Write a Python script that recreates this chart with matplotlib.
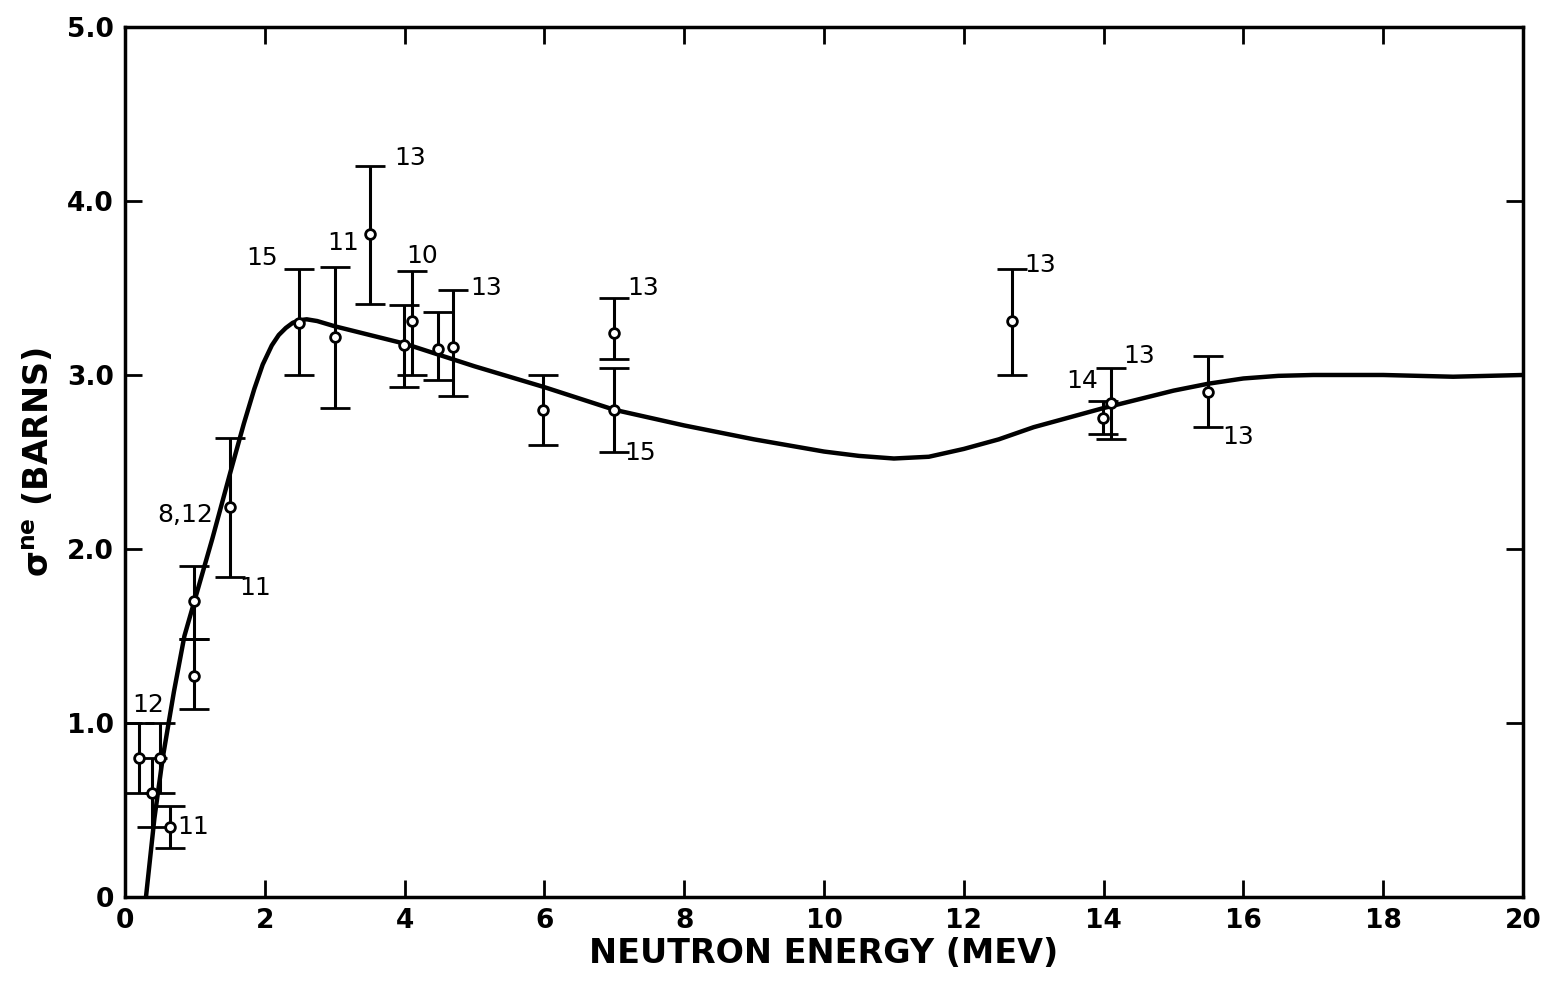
import matplotlib
matplotlib.use('Agg')
import matplotlib.pyplot as plt

plt.rcParams['font.family'] = ['DejaVu Sans']
plt.rcParams['font.weight'] = 'bold'
plt.rcParams['axes.labelweight'] = 'bold'
plt.rcParams['mathtext.fontset'] = 'dejavusans'

# measured points: energy (MeV), cross section (barns), lower / upper error bar ends
energy = [0.2, 0.39, 0.5, 0.64, 0.99, 0.99, 1.5, 2.49, 3.0, 3.5, 3.99, 4.1,
          4.48, 4.69, 5.98, 7.0, 7.0, 12.69, 13.99, 14.1, 15.5]
sigma = [0.80, 0.60, 0.80, 0.40, 1.70, 1.27, 2.24, 3.30, 3.22, 3.81, 3.17, 3.31,
         3.15, 3.16, 2.80, 3.24, 2.80, 3.31, 2.75, 2.84, 2.90]
err_lo = [0.60, 0.40, 0.60, 0.28, 1.48, 1.08, 1.84, 3.00, 2.81, 3.41, 2.93, 3.00,
          2.97, 2.88, 2.60, 3.09, 2.56, 3.00, 2.66, 2.63, 2.70]
err_hi = [1.00, 0.80, 1.00, 0.52, 1.90, 1.48, 2.64, 3.61, 3.62, 4.20, 3.40, 3.60,
          3.36, 3.49, 3.00, 3.44, 3.04, 3.61, 2.85, 3.04, 3.11]
refs = ['12', '', '', '11', '8,12', '', '11', '15', '11', '13', '', '10',
        '', '13', '', '13', '15', '13', '14', '13', '13']
# label offsets in pixels from each point
ref_dx = [9, 0, 0, 23, -9, 0, 25, -37, 8, 40, 0, 11, 0, 33, 0, 29, 26, 28, -21, 29, 30]
ref_dy = [53, 0, 0, 0, 86, 0, -81, 65, 94, 76, 0, 65, 0, 59, 0, 45, -43, 56, 37, 47, -45]

# theoretical curve
curve_x = [0.3, 0.42, 0.54, 0.7, 0.85, 1.0, 1.25, 1.5, 1.7, 1.85, 1.97, 2.1, 2.2,
           2.3, 2.4, 2.5, 2.6, 2.75, 3.0, 3.5, 4.0, 5.0, 6.0, 7.0, 8.0, 9.0, 10.0,
           10.5, 11.0, 11.5, 12.0, 12.5, 13.0, 13.5, 14.0, 14.5, 15.0, 15.5,
           16.0, 16.5, 17.0, 18.0, 19.0, 20.0]
curve_y = [0.0, 0.45, 0.80, 1.18, 1.50, 1.71, 2.06, 2.43, 2.72, 2.92, 3.06, 3.17,
           3.23, 3.27, 3.30, 3.315, 3.32, 3.31, 3.28, 3.23, 3.18, 3.05, 2.93, 2.80,
           2.71, 2.63, 2.56, 2.535, 2.52, 2.53, 2.575, 2.63, 2.70, 2.755, 2.81,
           2.86, 2.91, 2.95, 2.98, 2.995, 3.0, 3.0, 2.99, 3.0]

fig = plt.figure(figsize=(15.49, 9.82), dpi=100)
ax = fig.add_axes([0.0807, 0.0866, 0.9025, 0.8859])

ax.plot(curve_x, curve_y, color='black', lw=3.2, solid_capstyle='round',
        solid_joinstyle='round')

yerr = [[s - lo for s, lo in zip(sigma, err_lo)], [hi - s for s, hi in zip(sigma, err_hi)]]
ax.errorbar(energy, sigma, yerr=yerr, fmt='o', color='black', ecolor='black',
            elinewidth=2.2, capsize=11, capthick=2.4, markersize=7,
            markerfacecolor='white', markeredgewidth=2, zorder=3)

for x, y, r, dx, dy in zip(energy, sigma, refs, ref_dx, ref_dy):
    if r:
        ax.annotate(r, xy=(x, y), xytext=(dx, dy), textcoords='offset pixels',
                    ha='center', va='center', fontsize=18, fontweight='normal')

ax.set_xlim(0, 20)
ax.set_ylim(0, 5.0)
ax.set_xticks(range(0, 21, 2))
ax.set_yticks([0, 1, 2, 3, 4, 5])
ax.set_yticklabels(['0', '1.0', '2.0', '3.0', '4.0', '5.0'])
ax.tick_params(direction='in', length=12, width=2, labelsize=19,
               top=True, right=True, pad=8)
for s in ax.spines.values():
    s.set_linewidth(2.5)

ax.set_xlabel('NEUTRON ENERGY (MEV)', fontsize=24, labelpad=2)
ax.set_ylabel(r'$\mathbf{\sigma^{ne}}$ (BARNS)', fontsize=24, labelpad=8)

fig.savefig('out.png', dpi=100)
